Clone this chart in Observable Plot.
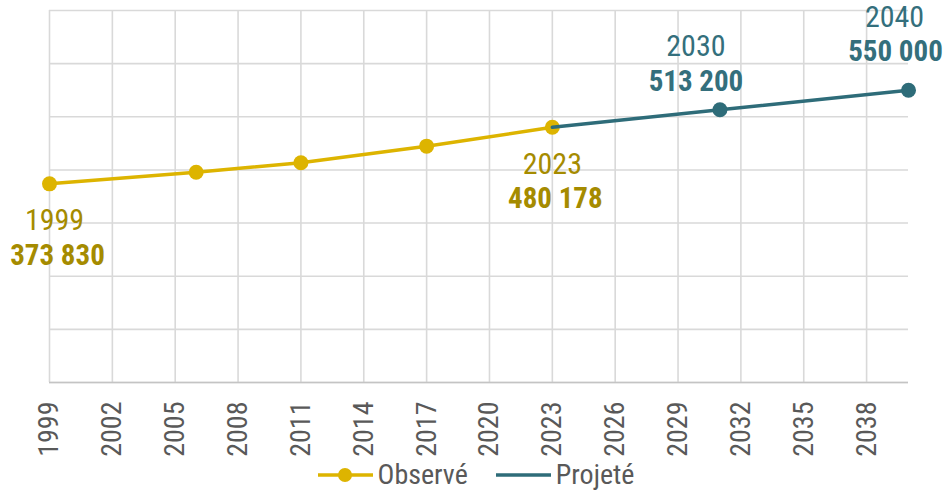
<!DOCTYPE html>
<html><head><meta charset="utf-8">
<script src="https://cdn.jsdelivr.net/npm/d3@7"></script>
<script src="https://cdn.jsdelivr.net/npm/@observablehq/plot@0.6"></script>
<style>
body{margin:0;background:#fff;font-family:"Roboto Condensed",Roboto,sans-serif;}
#chart svg{display:block;}
#legend{display:flex;justify-content:center;align-items:center;height:33px;font-size:28px;color:#595959;padding-left:8px;box-sizing:border-box;width:944px;}
.item{display:flex;align-items:center;margin:0 14px;}
.item svg{margin-right:5px;}
</style></head><body><div id="chart"></div><div id="legend"></div>
<script>
const obsYears = [1999, 2006, 2011, 2017, 2023];
const obsValues = [373830, 395700, 413400, 444700, 480178];
const projYears = [2023, 2031, 2040];
const projValues = [480178, 513200, 550000];
const labelYears = [1999, 2023, 2031, 2040];
const labelValues = [373830, 480178, 513200, 550000];
const labelYearTexts = ["1999", "2023", "2030", "2040"];
const labelSeries = ["Observé", "Observé", "Projeté", "Projeté"];
const xTicks = [1999, 2002, 2005, 2008, 2011, 2014, 2017, 2020, 2023, 2026, 2029, 2032, 2035, 2038];
const yGrid = [0, 100000, 200000, 300000, 400000, 500000, 600000, 700000];
const seriesNames = ["Observé", "Projeté"];

const GOLD = "#DDB400", GOLD_TXT = "#A58B00";
const TEAL = "#2E6C79", TEAL_TXT = "#346F7C";
const fmt = v => d3.format(",")(v).replace(/,/g, " ");

const obs = obsYears.map((x, i) => ({x, y: obsValues[i]}));
const proj = projYears.map((x, i) => ({x, y: projValues[i]}));
const labels = labelYears.map((x, i) => ({x, y: labelValues[i], yt: labelYearTexts[i], vt: fmt(labelValues[i]), s: labelSeries[i]}));

// offsets (style only): [dxYear, dyYear, dxValue, dyValue]
const offs = [[5, 37, 8, 72], [0, 37, 3, 71], [-24, -63, -24, -28], [-14, -73, -13, -38]];
const labelMarks = labels.flatMap((d, i) => {
  const c = d.s === "Observé" ? GOLD_TXT : TEAL_TXT;
  const o = offs[i];
  return [
    Plot.text([d], {x: "x", y: "y", text: "yt", dx: o[0], dy: o[1], fill: c, fontSize: 30, fontWeight: 400}),
    Plot.text([d], {x: "x", y: "y", text: "vt", dx: o[2], dy: o[3], fill: c, fontSize: 29, fontWeight: 700})
  ];
});

const chart = Plot.plot({
  width: 944, height: 458,
  marginLeft: 49, marginRight: 36, marginTop: 10, marginBottom: 76,
  style: {fontFamily: "'Roboto Condensed', Roboto, sans-serif", background: "#fff"},
  x: {domain: [1999, 2040], axis: null},
  y: {domain: [0, 700000], axis: null},
  marks: [
    Plot.gridX(xTicks, {stroke: "#d9d9d9", strokeOpacity: 1, strokeWidth: 1.6}),
    Plot.gridY(yGrid, {stroke: "#d9d9d9", strokeOpacity: 1, strokeWidth: 1.6}),
    Plot.ruleY([0], {stroke: "#c4c4c4", strokeWidth: 1.6}),
    Plot.axisX(xTicks, {tickSize: 0, tickRotate: -90, tickPadding: 19, fontSize: 28, fill: "#595959", tickFormat: d => String(d), label: null}),
    Plot.line(obs, {x: "x", y: "y", stroke: GOLD, strokeWidth: 3.5}),
    Plot.dot(obs, {x: "x", y: "y", r: 7.5, fill: GOLD}),
    Plot.line(proj, {x: "x", y: "y", stroke: TEAL, strokeWidth: 3.5}),
    Plot.dot(proj.slice(1), {x: "x", y: "y", r: 7.5, fill: TEAL}),
    ...labelMarks
  ]
});
document.getElementById("chart").append(chart);

const legend = document.getElementById("legend");
const lc = [GOLD, TEAL];
seriesNames.forEach((n, i) => {
  const it = document.createElement("div");
  it.className = "item";
  const dot = i === 0 ? `<circle cx="27" cy="10" r="7" fill="${lc[i]}"/>` : "";
  it.innerHTML = `<svg width="55" height="20"><line x1="0" x2="55" y1="10" y2="10" stroke="${lc[i]}" stroke-width="3.5"/>${dot}</svg><span>${n}</span>`;
  legend.append(it);
});
</script>
</body></html>
